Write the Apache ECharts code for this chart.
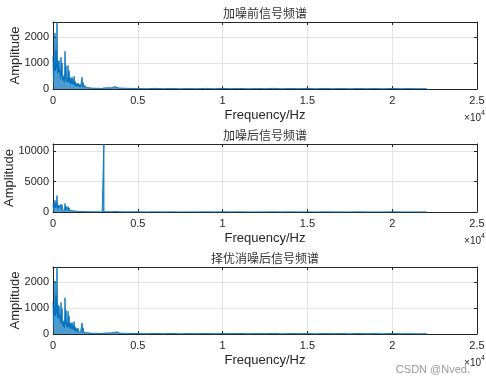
<!DOCTYPE html>
<html>
<head>
<meta charset="utf-8">
<script src="https://cdn.jsdelivr.net/npm/echarts@6/dist/echarts.min.js"></script>
<style>html,body{margin:0;padding:0;background:#fff;}#c{width:486px;height:384px;}</style>
</head>
<body>
<div id="c"></div>
<script>
// Frequency samples (Hz)
const freqHz = [
  0,30,59,89,118,148,177,207,236,266,296,326,355,385,414,444,473,503,532,562,
  591,621,650,680,709,739,768,798,827,857,887,917,946,976,1005,1035,1064,1094,1123,1153,
  1182,1212,1241,1271,1300,1330,1359,1389,1418,1448,1478,1508,1537,1567,1596,1626,1655,1685,1714,1744,
  1773,1803,1832,1862,1891,1921,1950,1980,2009,2039,2069,2099,2128,2158,2187,2217,2246,2276,
  2350,2420,2480,2540,2600,2660,2720,2780,2840,2900,2960,2995,3000,3005,3040,3100,3160,3220,3280,3340,3400,3460,
  3520,3580,3640,3700,3760,3820,3880,3940,4000,4100,4200,4300,4400,4500,
  5000,5500,6000,6500,7000,7500,8000,8500,9000,9500,10000,10500,11000,11500,12000,12500,13000,13500,
  14000,14500,15000,15500,16000,16500,17000,17500,18000,18500,19000,19500,20000,20500,21000,21500,22000,22050
];
// Amplitude before adding noise
const ampBefore = [
  1260,300,1000,750,2150,700,1500,800,2580,600,1060,650,1100,600,730,400,1220,500,1000,350,
  490,300,520,250,1450,400,900,300,420,250,900,300,700,250,450,200,400,220,450,200,
  380,180,490,150,300,120,230,100,200,120,230,100,180,80,170,90,150,70,450,80,
  250,60,130,70,140,60,110,50,120,55,100,40,90,45,110,40,80,35,
  60,30,70,25,55,30,45,20,50,25,40,20,25,20,45,20,40,25,55,20,40,30,
  60,35,90,40,70,25,40,20,35,20,30,15,25,15,
  20,10,25,12,22,8,18,12,24,10,20,14,22,9,18,12,25,10,
  20,13,18,8,22,12,19,10,21,11,17,9,20,12,16,10,14,5
];
// Amplitude after adding noise (3 kHz tone)
const ampNoisy = [
  1300,320,1480,760,1930,720,1550,820,2700,620,1100,640,1150,610,760,420,1250,520,1200,360,
  520,310,540,260,1400,420,950,310,440,260,880,300,700,260,460,210,420,230,470,210,
  400,190,480,160,310,130,240,110,210,120,240,100,190,90,180,90,160,80,300,80,
  240,70,140,70,150,60,120,50,120,60,100,45,95,45,110,40,85,35,
  65,30,70,30,60,30,50,25,55,25,45,30,11200,30,50,25,45,25,55,20,45,30,
  60,35,85,40,70,30,45,20,35,20,30,15,25,15,
  25,12,28,14,24,10,20,14,26,12,22,15,24,10,20,13,26,12,
  22,14,20,10,24,13,20,11,22,12,18,10,21,13,17,11,15,6
];
// Amplitude after optimal denoising
const ampDenoised = [
  1250,310,1020,740,2050,690,1480,790,2590,610,1130,640,1080,590,740,410,1220,490,980,340,
  500,290,510,240,1400,390,920,300,430,240,880,290,690,240,440,200,410,210,440,190,
  370,170,480,140,290,120,220,100,210,110,220,100,170,80,160,80,150,70,430,70,
  240,60,120,60,130,55,100,50,110,50,95,40,85,40,100,35,75,30,
  55,25,65,25,50,25,40,20,45,20,35,20,18,20,40,18,35,20,45,18,40,25,
  55,30,60,45,85,30,45,20,30,18,25,14,22,12,
  18,9,22,11,20,8,16,11,22,9,18,12,20,8,16,11,22,9,
  18,12,16,7,20,11,17,9,19,10,15,8,18,11,14,9,12,4
];
const series = [ampBefore, ampNoisy, ampDenoised];
const titles = ['加噪前信号频谱', '加噪后信号频谱', '择优消噪后信号频谱'];
const xLabelScale = 10000;
const yMax = [2580, 11200, 2590];
const yInterval = [1000, 5000, 1000];

const gridTop = [22, 144, 267];
const gridHeight = [67, 68, 67];
const yNameGap = [31, 37, 31];
const FONT = '"Liberation Sans", Arial, Helvetica, sans-serif';
const AX = '#262626';

const grids = [], xAxes = [], yAxes = [], ser = [], graphics = [];
for (let i = 0; i < 3; i++) {
  grids.push({left: 53, right: 9, top: gridTop[i], height: gridHeight[i],
    containLabel: false, outerBoundsMode: 'none'});
  const common = {
    type: 'value', gridIndex: i,
    axisLine: {show: true, onZero: false, lineStyle: {color: AX, width: 1}},
    axisTick: {show: true, inside: true, length: 3, lineStyle: {color: AX}},
  };
  xAxes.push(Object.assign({}, common, {
    position: 'bottom', min: 0, max: 25000, interval: 5000,
    axisLabel: {margin: 6, fontSize: 11, color: AX, fontFamily: FONT,
      formatter: v => String(v / xLabelScale)},
    splitLine: {show: true, lineStyle: {color: '#e3e3e3', width: 1}},
    name: 'Frequency/Hz', nameLocation: 'middle', nameGap: 20, nameMoveOverlap: false,
    nameTextStyle: {fontSize: 13, color: AX, fontFamily: FONT}
  }));
  xAxes.push(Object.assign({}, common, {
    position: 'top', min: 0, max: 25000, interval: 5000,
    axisLabel: {show: false}, splitLine: {show: false}
  }));
  const yi = yInterval[i];
  yAxes.push(Object.assign({}, common, {
    position: 'left', min: 0, max: yMax[i], interval: yi,
    axisLabel: {margin: 4, fontSize: 11, color: AX, fontFamily: FONT,
      formatter: v => (v % yi === 0 ? String(v) : '')},
    splitLine: {show: true, lineStyle: {color: '#e3e3e3', width: 1}},
    name: 'Amplitude', nameLocation: 'middle', nameGap: yNameGap[i], nameRotate: 90,
    nameMoveOverlap: false,
    nameTextStyle: {fontSize: 13, color: AX, fontFamily: FONT}
  }));
  yAxes.push(Object.assign({}, common, {
    position: 'right', min: 0, max: yMax[i], interval: yi,
    axisLabel: {show: false}, splitLine: {show: false}
  }));
  ser.push({
    type: 'line', xAxisIndex: 2 * i, yAxisIndex: 2 * i,
    data: freqHz.map((f, j) => [f, series[i][j]]),
    showSymbol: false, symbol: 'none', sampling: null, silent: true,
    lineStyle: {width: 0.9, color: '#0072BD', join: 'bevel'}, itemStyle: {color: '#0072BD'},
    areaStyle: {color: '#0072BD', opacity: 0.7},
    animation: false, z: 3
  });
  const bottom = gridTop[i] + gridHeight[i];
  graphics.push({type: 'text',
    style: {text: titles[i], x: 265, y: gridTop[i] - 9, textAlign: 'center', textVerticalAlign: 'middle',
      fontSize: 12, fill: '#333', fontFamily: '"Noto Sans CJK SC", sans-serif'}});
  graphics.push({type: 'text', style: {text: '×10', x: 481, y: bottom + 29, textAlign: 'right',
      textVerticalAlign: 'middle', fontSize: 10, fill: AX, fontFamily: FONT}});
  graphics.push({type: 'text', style: {text: '4', x: 481, y: bottom + 24, textAlign: 'left',
      textVerticalAlign: 'middle', fontSize: 7, fill: AX, fontFamily: FONT}});
}
graphics.push({type: 'text', style: {text: 'CSDN @Nved.', x: 470, y: 370, textAlign: 'right',
  textVerticalAlign: 'middle', fontSize: 11, fill: '#9a9a9a', fontFamily: FONT}, z: 10});

const chart = echarts.init(document.getElementById('c'), null, {renderer: 'canvas'});
chart.setOption({
  animation: false,
  backgroundColor: '#fff',
  grid: grids, xAxis: xAxes, yAxis: yAxes, series: ser,
  graphic: {elements: graphics}
});
</script>
</body>
</html>
